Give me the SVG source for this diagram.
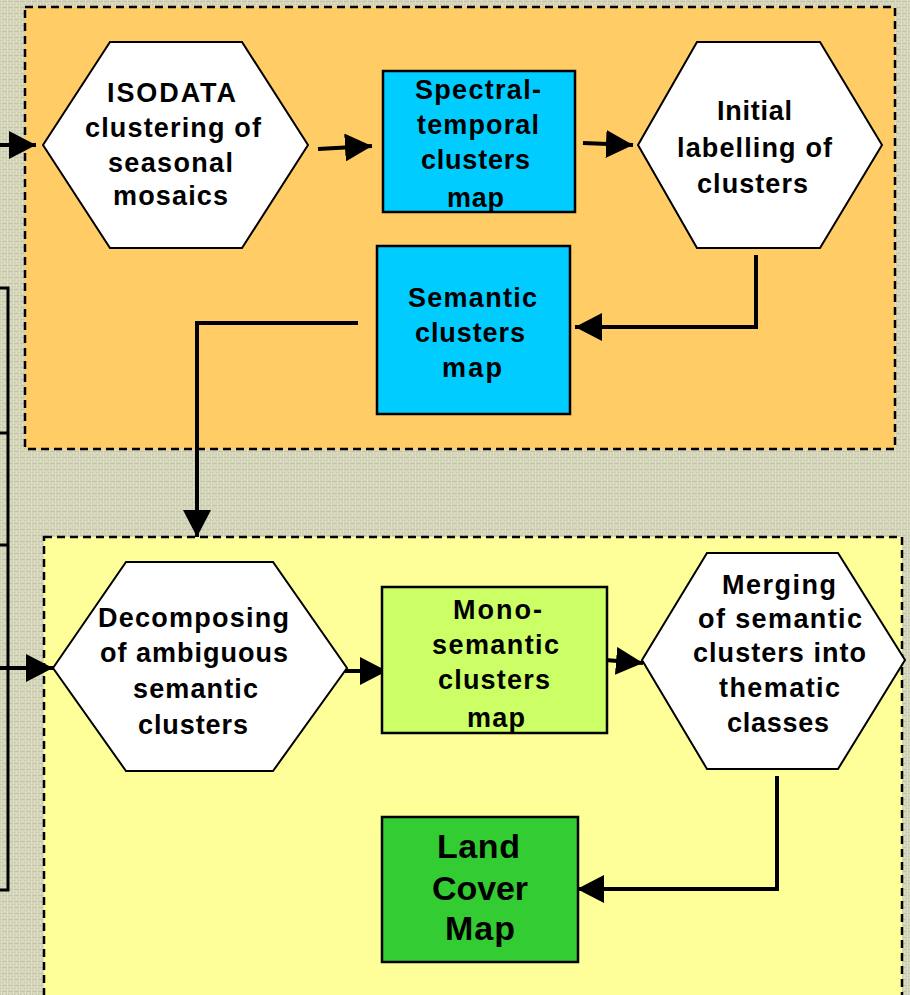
<svg xmlns="http://www.w3.org/2000/svg" width="910" height="995" viewBox="0 0 910 995">
<style>
  .t { font-family: "Liberation Sans", Arial, sans-serif; font-weight: bold; font-size: 27px; fill: #000; text-anchor: middle; }
  .big { font-size: 34px; }
  .hex { fill: #ffffff; stroke: #000; stroke-width: 2; }
  .box { stroke: #000; stroke-width: 2.5; }
  .con { fill: none; stroke: #000; stroke-width: 4; }
  .brk { fill: none; stroke: #000; stroke-width: 3; }
  .zone { stroke: #000; stroke-width: 2.5; stroke-dasharray: 8 5; }
</style>
<defs>
  <pattern id="linen" width="6" height="6" patternUnits="userSpaceOnUse">
    <rect width="6" height="6" fill="#d5d5ba"/>
    <path d="M0,1.5 H6 M0,4.5 H3" stroke="#c2c2a6" stroke-width="0.8"/>
    <path d="M1.5,0 V6 M4.5,3 V6" stroke="#e2e2cb" stroke-width="0.8"/>
  </pattern>
  <marker id="ah" markerUnits="userSpaceOnUse" markerWidth="28" markerHeight="28" refX="27" refY="14" orient="auto">
    <path d="M0,0 L27,14 L0,28 z" fill="#000"/>
  </marker>
</defs>

<rect x="0" y="0" width="910" height="995" fill="url(#linen)"/>

<g id="zone-orange">
  <rect class="zone" x="25" y="7" width="870" height="442" fill="#ffcc66"/>
</g>
<g id="zone-yellow">
  <rect class="zone" x="44" y="537" width="858" height="470" fill="#ffff99"/>
</g>

<g id="connectors">
  <path class="brk" d="M0,288 H8 V890 H0 M0,433 H8 M0,545 H8"/>
  <line class="con" x1="0" y1="145" x2="36" y2="145" marker-end="url(#ah)"/>
  <line class="con" x1="318" y1="149" x2="372" y2="146" marker-end="url(#ah)"/>
  <line class="con" x1="583" y1="143" x2="633" y2="145" marker-end="url(#ah)"/>
  <polyline class="con" points="756,255 756,327 575,327" marker-end="url(#ah)"/>
  <polyline class="con" points="358,323 197,323 197,537" marker-end="url(#ah)"/>
  <line class="con" x1="0" y1="668" x2="53" y2="668" marker-end="url(#ah)"/>
  <line class="con" x1="345" y1="671" x2="387" y2="671" marker-end="url(#ah)"/>
  <line class="con" x1="605" y1="660" x2="643" y2="663" marker-end="url(#ah)"/>
  <polyline class="con" points="777,776 777,889 577,889" marker-end="url(#ah)"/>
</g>

<g id="isodata">
  <polygon class="hex" points="43,145 110,42 242,42 308,145 242,248 110,248"/>
  <text class="t" x="171.5" y="102" textLength="129" lengthAdjust="spacing">ISODATA</text>
  <text class="t" x="173" y="137" textLength="176" lengthAdjust="spacing">clustering of</text>
  <text class="t" x="170.5" y="172" textLength="125" lengthAdjust="spacing">seasonal</text>
  <text class="t" x="170.5" y="205" textLength="115" lengthAdjust="spacing">mosaics</text>
</g>

<g id="spectral">
  <rect class="box" x="383" y="71" width="192" height="141" fill="#00ccff"/>
  <text class="t" x="478" y="99" textLength="126" lengthAdjust="spacing">Spectral-</text>
  <text class="t" x="478" y="134" textLength="122" lengthAdjust="spacing">temporal</text>
  <text class="t" x="475.5" y="169" textLength="109" lengthAdjust="spacing">clusters</text>
  <text class="t" x="475.5" y="207" textLength="57" lengthAdjust="spacing">map</text>
</g>

<g id="initial">
  <polygon class="hex" points="638,145 697,42 820,42 882,145 820,248 697,248"/>
  <text class="t" x="754.5" y="120" textLength="75" lengthAdjust="spacing">Initial</text>
  <text class="t" x="754.5" y="157" textLength="155" lengthAdjust="spacing">labelling of</text>
  <text class="t" x="752.5" y="193" textLength="111" lengthAdjust="spacing">clusters</text>
</g>

<g id="semantic">
  <rect class="box" x="377" y="246" width="193" height="168" fill="#00ccff"/>
  <text class="t" x="472.5" y="307" textLength="129" lengthAdjust="spacing">Semantic</text>
  <text class="t" x="470" y="342" textLength="110" lengthAdjust="spacing">clusters</text>
  <text class="t" x="472" y="377" textLength="60" lengthAdjust="spacing">map</text>
</g>

<g id="decomposing">
  <polygon class="hex" points="53,668 126,562 273,562 347,668 273,771 126,771"/>
  <text class="t" x="193.5" y="627" textLength="191" lengthAdjust="spacing">Decomposing</text>
  <text class="t" x="194" y="662" textLength="188" lengthAdjust="spacing">of ambiguous</text>
  <text class="t" x="195.5" y="698" textLength="125" lengthAdjust="spacing">semantic</text>
  <text class="t" x="193" y="734" textLength="110" lengthAdjust="spacing">clusters</text>
</g>

<g id="mono">
  <rect class="box" x="382" y="587" width="225" height="146" fill="#ccff66"/>
  <text class="t" x="497.5" y="619" textLength="89" lengthAdjust="spacing">Mono-</text>
  <text class="t" x="495.5" y="654" textLength="127" lengthAdjust="spacing">semantic</text>
  <text class="t" x="494" y="689" textLength="112" lengthAdjust="spacing">clusters</text>
  <text class="t" x="496" y="727" textLength="58" lengthAdjust="spacing">map</text>
</g>

<g id="merging">
  <polygon class="hex" points="642,660 707,553 838,553 905,660 838,769 707,769"/>
  <text class="t" x="779" y="594" textLength="114" lengthAdjust="spacing">Merging</text>
  <text class="t" x="780" y="628" textLength="164" lengthAdjust="spacing">of semantic</text>
  <text class="t" x="779.5" y="662" textLength="173" lengthAdjust="spacing">clusters into</text>
  <text class="t" x="779.5" y="697" textLength="121" lengthAdjust="spacing">thematic</text>
  <text class="t" x="778" y="732" textLength="102" lengthAdjust="spacing">classes</text>
</g>

<g id="landcover">
  <rect class="box" x="382" y="817" width="196" height="145" fill="#33cc33"/>
  <text class="t big" x="478.5" y="858" textLength="83" lengthAdjust="spacing">Land</text>
  <text class="t big" x="480" y="900" textLength="96" lengthAdjust="spacing">Cover</text>
  <text class="t big" x="480" y="940" textLength="70" lengthAdjust="spacing">Map</text>
</g>
</svg>
